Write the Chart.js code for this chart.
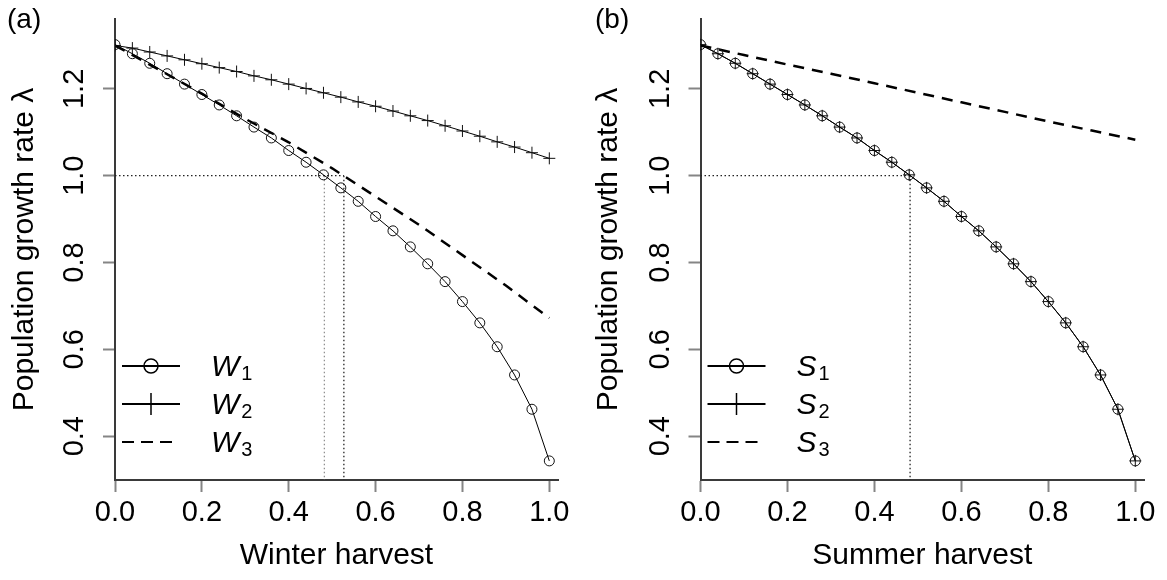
<!DOCTYPE html>
<html>
<head>
<meta charset="utf-8">
<script src="https://cdn.jsdelivr.net/npm/chart.js@4.4.1/dist/chart.umd.min.js"></script>
<style>
  body { margin: 0; background: #fff; }
  #wrap { position: relative; width: 1167px; height: 580px; }
  canvas { position: absolute; top: 0; }
</style>
</head>
<body>
<div id="wrap">
  <canvas id="panelA" width="584" height="580" style="left:0"></canvas>
  <canvas id="panelB" width="583" height="580" style="left:584px"></canvas>
</div>
<script>
// harvest proportion, one point every 0.04 (marker series)
const harvest = [0, 0.04, 0.08, 0.12, 0.16, 0.20, 0.24, 0.28, 0.32, 0.36, 0.40, 0.44, 0.48,
                 0.52, 0.56, 0.60, 0.64, 0.68, 0.72, 0.76, 0.80, 0.84, 0.88, 0.92, 0.96, 1.00];
// coarser grid for the dashed curves
const harvestCoarse = [0, 0.1, 0.2, 0.3, 0.4, 0.5, 0.6, 0.7, 0.8, 0.9, 1.0];

// (a) winter harvest
const w1 = [1.302, 1.281, 1.259, 1.235, 1.211, 1.187, 1.163, 1.138, 1.112, 1.087, 1.058, 1.031, 1.002,
            0.972, 0.941, 0.906, 0.873, 0.836, 0.797, 0.756, 0.710, 0.661, 0.606, 0.541, 0.462, 0.343];
const w2 = [1.300, 1.294, 1.285, 1.276, 1.267, 1.258, 1.249, 1.240, 1.230, 1.221, 1.211, 1.201, 1.191,
            1.181, 1.170, 1.160, 1.149, 1.138, 1.127, 1.115, 1.103, 1.091, 1.078, 1.066, 1.053, 1.040];
const w3 = [1.300, 1.245, 1.189, 1.131, 1.077, 1.017, 0.952, 0.887, 0.817, 0.747, 0.672];

// (b) summer harvest
const s1 = [1.302, 1.281, 1.259, 1.235, 1.211, 1.187, 1.163, 1.138, 1.112, 1.087, 1.058, 1.031, 1.002,
            0.972, 0.941, 0.906, 0.873, 0.836, 0.797, 0.756, 0.710, 0.661, 0.606, 0.541, 0.462, 0.343];
const s2 = [1.302, 1.281, 1.259, 1.235, 1.211, 1.187, 1.163, 1.138, 1.112, 1.087, 1.058, 1.031, 1.002,
            0.972, 0.941, 0.906, 0.873, 0.836, 0.797, 0.756, 0.710, 0.661, 0.606, 0.541, 0.462, 0.343];
const s3 = [1.300, 1.278, 1.256, 1.235, 1.213, 1.191, 1.169, 1.147, 1.125, 1.104, 1.083];

// harvest levels where lambda = 1
const crossA = [0.482, 0.527];
const crossB = [0.482];

const xTicks = [0, 0.2, 0.4, 0.6, 0.8, 1.0];
const yTicks = [0.4, 0.6, 0.8, 1.0, 1.2];
const X_MIN = 0, X_MAX = 1.02, Y_MIN = 0.299, Y_MAX = 1.361;

const FONT = '"Liberation Sans", Arial, Helvetica, sans-serif';
Chart.defaults.font.family = FONT;
Chart.defaults.color = '#000';

const pts = (xs, ys) => xs.map((x, i) => ({ x, y: ys[i] }));

function markerSet(xs, ys, style) {
  return {
    data: pts(xs, ys), borderColor: '#000', borderWidth: 1,
    pointStyle: style, pointRadius: style === 'cross' ? 6 : 5,
    pointBorderWidth: 1, pointBorderColor: '#111',
    pointBackgroundColor: 'rgba(0,0,0,0)', tension: 0
  };
}
function dashedSet(xs, ys) {
  return { data: pts(xs, ys), borderColor: '#000', borderWidth: 2.5, borderDash: [11, 8], pointRadius: 0, tension: 0 };
}
function dottedSet(data, color) {
  return { data, borderColor: color, borderWidth: 1.2, borderDash: [1.5, 2.5], pointRadius: 0 };
}

const decor = {
  id: 'decor',
  afterDraw(chart, args, o) {
    const { ctx, chartArea: a, scales: { y } } = chart;
    ctx.save();
    ctx.fillStyle = '#000';
    // y tick labels, parallel to the axis
    ctx.font = `29px ${FONT}`;
    ctx.textAlign = 'center';
    ctx.textBaseline = 'middle';
    y.ticks.forEach(t => {
      ctx.save();
      ctx.translate(a.left - 40, y.getPixelForValue(t.value));
      ctx.rotate(-Math.PI / 2);
      ctx.fillText(t.value.toFixed(1), 0, 0);
      ctx.restore();
    });
    // panel letter
    ctx.textAlign = 'left';
    ctx.textBaseline = 'alphabetic';
    ctx.font = `28px ${FONT}`;
    ctx.fillText(o.letter, o.letterX, 28);
    // legend
    o.entries.forEach((kind, i) => {
      const ly = a.bottom - 114 + i * 38;
      const x0 = a.left + 7, x1 = a.left + 65, xm = (x0 + x1) / 2;
      ctx.strokeStyle = '#000';
      ctx.lineWidth = 2;
      ctx.setLineDash(kind === 'dash' ? [12, 7] : []);
      ctx.beginPath(); ctx.moveTo(x0, ly); ctx.lineTo(kind === 'dash' ? x1 - 6 : x1, ly); ctx.stroke();
      ctx.setLineDash([]);
      ctx.lineWidth = 1.5;
      if (kind === 'circle') {
        ctx.beginPath(); ctx.arc(xm, ly, 7, 0, Math.PI * 2); ctx.stroke();
      } else if (kind === 'cross') {
        ctx.beginPath(); ctx.moveTo(xm, ly - 11); ctx.lineTo(xm, ly + 11); ctx.stroke();
      }
      const tx = a.left + 96;
      ctx.font = `italic 30px ${FONT}`;
      ctx.fillText(o.sym, tx, ly + 10);
      const w = ctx.measureText(o.sym).width;
      ctx.font = `20px ${FONT}`;
      ctx.fillText(String(i + 1), tx + w + 2, ly + 14);
    });
    ctx.restore();
  }
};

function makePanel(id, opt) {
  const datasets = [
    markerSet(harvest, opt.one, 'circle'),
    markerSet(harvest, opt.two, 'cross'),
    dashedSet(harvestCoarse, opt.three),
    dottedSet([{ x: 0, y: 1 }, { x: Math.max(...opt.cross), y: 1 }], '#222')
  ];
  opt.cross.forEach((c, i) => datasets.push(dottedSet([{ x: c, y: 1 }, { x: c, y: Y_MIN }], opt.crossColors[i])));

  new Chart(document.getElementById(id), {
    type: 'line',
    data: { datasets },
    options: {
      responsive: false, animation: false, devicePixelRatio: 1,
      layout: { padding: { left: 0, right: opt.padRight, top: 19, bottom: 0 } },
      plugins: {
        legend: { display: false }, tooltip: { enabled: false },
        decor: { letter: opt.letter, letterX: opt.letterX, sym: opt.sym, entries: ['circle', 'cross', 'dash'] }
      },
      scales: {
        x: {
          type: 'linear', min: X_MIN, max: X_MAX,
          afterBuildTicks: s => { s.ticks = xTicks.map(v => ({ value: v })); },
          afterFit: s => { s.height = 100; },
          grid: { drawOnChartArea: false, drawTicks: true, tickLength: 12, tickColor: '#858585', tickWidth: 2 },
          border: { display: true, color: '#3a3a3a', width: 2 },
          ticks: { font: { size: 29 }, padding: 4, maxRotation: 0, callback: v => v.toFixed(1) },
          title: { display: true, text: opt.xTitle, font: { size: 30 }, padding: { top: 0, bottom: 6 } }
        },
        y: {
          type: 'linear', min: Y_MIN, max: Y_MAX,
          afterBuildTicks: s => { s.ticks = yTicks.map(v => ({ value: v })); },
          afterFit: s => { s.width = opt.axisLeft; },
          grid: { drawOnChartArea: false, drawTicks: true, tickLength: 12, tickColor: '#858585', tickWidth: 2 },
          border: { display: true, color: '#3a3a3a', width: 2 },
          ticks: { display: false },
          title: { display: true, text: 'Population growth rate λ', font: { size: 30 }, padding: { top: 7, bottom: 0 } }
        }
      }
    },
    plugins: [decor]
  });
}

makePanel('panelA', {
  one: w1, two: w2, three: w3, cross: crossA, crossColors: ['#8a8a8a', '#111'],
  letter: '(a)', letterX: 7, sym: 'W', xTitle: 'Winter harvest', axisLeft: 115, padRight: 26
});
makePanel('panelB', {
  one: s1, two: s2, three: s3, cross: crossB, crossColors: ['#111'],
  letter: '(b)', letterX: 11, sym: 'S', xTitle: 'Summer harvest', axisLeft: 116.5, padRight: 23
});
</script>
</body>
</html>
